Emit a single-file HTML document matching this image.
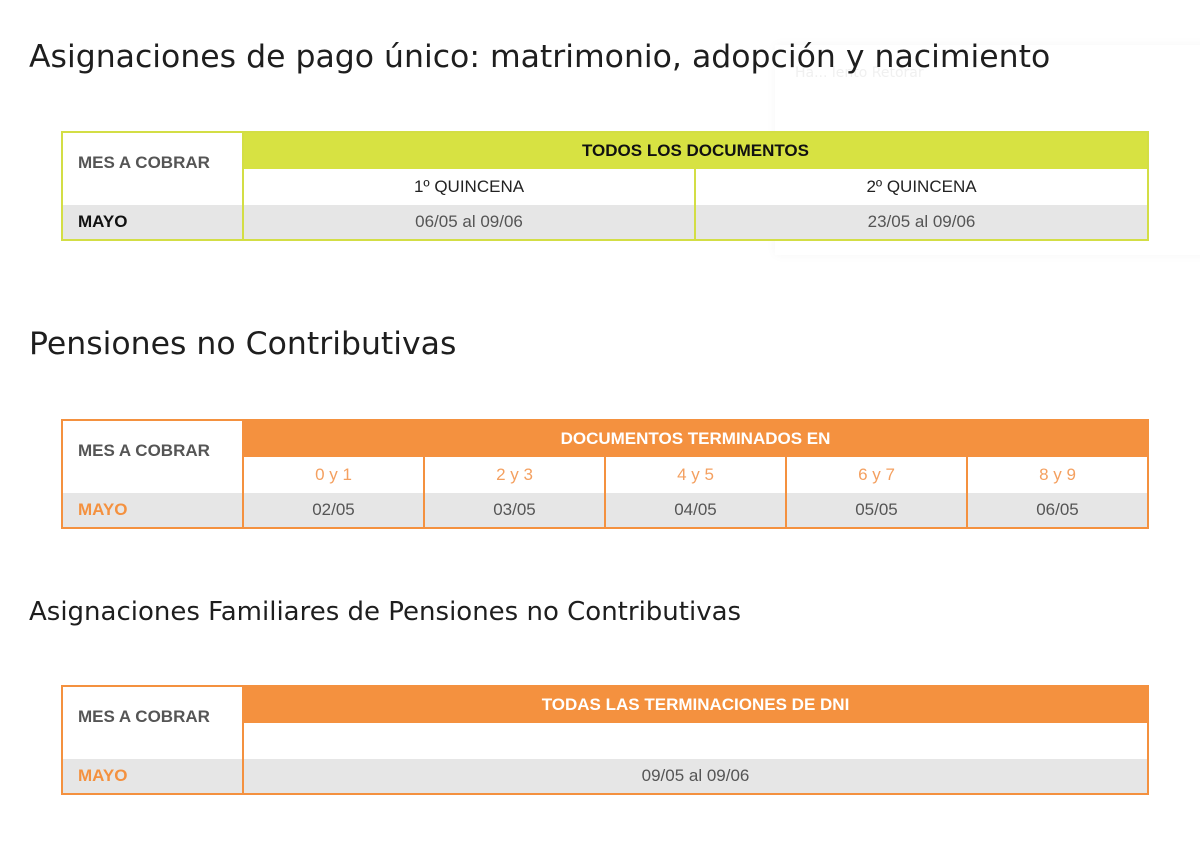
<!DOCTYPE html>
<html><head><meta charset="utf-8"><style>
body{margin:0;background:#fff;width:1200px;height:849px;position:relative;overflow:hidden;font-family:"DejaVu Sans","Liberation Sans",sans-serif;}
h1{position:absolute;left:29px;margin:0;font-weight:normal;color:#1e1e1e;white-space:nowrap;}
.ghost{position:absolute;left:775px;top:45px;width:440px;height:210px;box-shadow:0 0 10px rgba(0,0,0,0.04);background:#fff;}
.ghost span{position:absolute;left:20px;top:20px;color:#f0f0f0;font-size:14px;}
.t{position:absolute;left:61px;width:1088px;border:2px solid;box-sizing:border-box;font-family:"Liberation Sans Narrow","Liberation Sans",sans-serif;}
.c{position:absolute;display:flex;align-items:center;justify-content:center;box-sizing:border-box;font-size:17px;}
.lbl{left:0;top:0;width:181px;height:72px;background:#fff;color:#555;font-weight:bold;justify-content:flex-start;align-items:flex-start;padding-top:20px;padding-left:15px;border-right:2px solid;}
.may{left:0;top:72px;width:181px;height:34px;background:#e6e6e6;justify-content:flex-start;padding-left:15px;font-weight:bold;border-right:2px solid;}
.hd{left:181px;top:0;right:0;height:36px;font-weight:bold;}
.sub{top:36px;height:36px;background:#fff;}
.dat{top:72px;height:34px;background:#e6e6e6;color:#555;}
</style></head><body>
<div class="ghost"><span>Ha... lento Retorar</span></div>
<h1 style="top:39px;font-size:31.5px;">Asignaciones de pago único: matrimonio, adopción y nacimiento</h1>
<div class="t" style="top:131px;height:110px;border-color:#d3de45;">
 <div class="c lbl" style="border-color:#d3de45;">MES A COBRAR</div>
 <div class="c may" style="border-color:#d3de45;color:#111;">MAYO</div>
 <div class="c hd" style="background:#d7e242;color:#111;">TODOS LOS DOCUMENTOS</div>
 <div class="c sub" style="left:181px;width:452px;border-right:2px solid #d3de45;color:#222;">1º QUINCENA</div>
 <div class="c sub" style="left:633px;right:0;color:#222;">2º QUINCENA</div>
 <div class="c dat" style="left:181px;width:452px;border-right:2px solid #d3de45;">06/05 al 09/06</div>
 <div class="c dat" style="left:633px;right:0;">23/05 al 09/06</div>
</div>
<h1 style="top:326px;font-size:31.5px;">Pensiones no Contributivas</h1>
<div class="t" style="top:419px;height:110px;border-color:#f4913f;">
 <div class="c lbl" style="border-color:#f4913f;">MES A COBRAR</div>
 <div class="c may" style="border-color:#f4913f;color:#f4913f;">MAYO</div>
 <div class="c hd" style="background:#f4913f;color:#fff;">DOCUMENTOS TERMINADOS EN</div>
 <div class="c sub" style="left:181px;width:181px;border-right:2px solid #f4913f;color:#f4a060;">0 y 1</div>
 <div class="c sub" style="left:362px;width:181px;border-right:2px solid #f4913f;color:#f4a060;">2 y 3</div>
 <div class="c sub" style="left:543px;width:181px;border-right:2px solid #f4913f;color:#f4a060;">4 y 5</div>
 <div class="c sub" style="left:724px;width:181px;border-right:2px solid #f4913f;color:#f4a060;">6 y 7</div>
 <div class="c sub" style="left:905px;right:0;color:#f4a060;">8 y 9</div>
 <div class="c dat" style="left:181px;width:181px;border-right:2px solid #f4913f;">02/05</div>
 <div class="c dat" style="left:362px;width:181px;border-right:2px solid #f4913f;">03/05</div>
 <div class="c dat" style="left:543px;width:181px;border-right:2px solid #f4913f;">04/05</div>
 <div class="c dat" style="left:724px;width:181px;border-right:2px solid #f4913f;">05/05</div>
 <div class="c dat" style="left:905px;right:0;">06/05</div>
</div>
<h1 style="top:597px;font-size:26px;">Asignaciones Familiares de Pensiones no Contributivas</h1>
<div class="t" style="top:685px;height:110px;border-color:#f4913f;">
 <div class="c lbl" style="border-color:#f4913f;">MES A COBRAR</div>
 <div class="c may" style="border-color:#f4913f;color:#f4913f;">MAYO</div>
 <div class="c hd" style="background:#f4913f;color:#fff;">TODAS LAS TERMINACIONES DE DNI</div>
 <div class="c sub" style="left:181px;right:0;"></div>
 <div class="c dat" style="left:181px;right:0;">09/05 al 09/06</div>
</div>
</body></html>
